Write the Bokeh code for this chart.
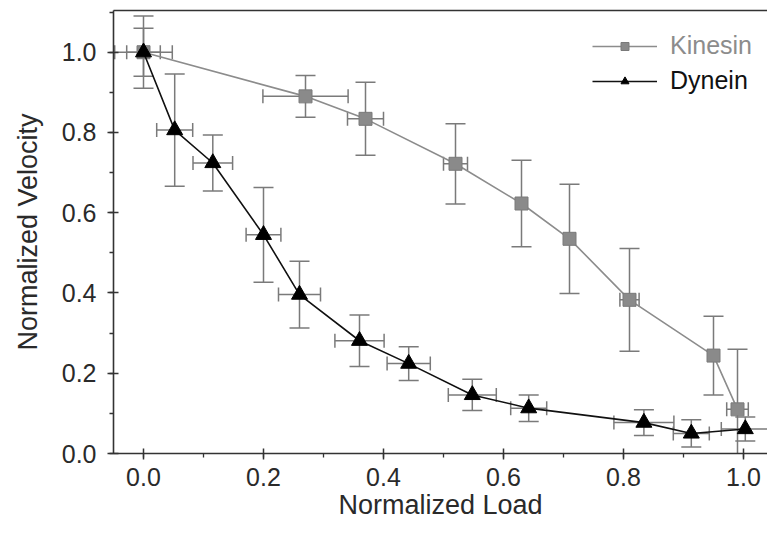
from bokeh.plotting import figure
from bokeh.models import (ColumnDataSource, Whisker, TeeHead, Legend, LegendItem,
                          SingleIntervalTicker, FixedTicker, PrintfTickFormatter, LinearAxis, Range1d)
from bokeh.embed import file_html
from bokeh.resources import INLINE

# ---- data ----
load_kinesin = [0.0, 0.27, 0.37, 0.52, 0.63, 0.71, 0.81, 0.95, 0.99]
vel_kinesin = [1.0, 0.89, 0.834, 0.722, 0.623, 0.535, 0.383, 0.244, 0.11]
yerr_kinesin = [0.09, 0.052, 0.091, 0.10, 0.108, 0.136, 0.128, 0.098, 0.15]
xerr_kinesin = [0.048, 0.071, 0.03, 0.02, 0.0, 0.0, 0.016, 0.0, 0.018]

load_dynein = [0.0, 0.052, 0.1155, 0.2, 0.26, 0.36, 0.442, 0.548, 0.642, 0.834, 0.913, 1.003]
vel_dynein = [1.0, 0.806, 0.724, 0.545, 0.396, 0.281, 0.224, 0.146, 0.113, 0.077, 0.05, 0.061]
yerr_dynein = [0.06, 0.14, 0.07, 0.118, 0.083, 0.064, 0.042, 0.039, 0.033, 0.032, 0.034, 0.03]
xerr_dynein = [0.028, 0.03, 0.033, 0.029, 0.035, 0.041, 0.036, 0.04, 0.03, 0.05, 0.03, 0.04]

x_label = "Normalized Load"
y_label = "Normalized Velocity"
series_names = ["Kinesin", "Dynein"]

FONT = "Liberation Sans"
TEXT_COLOR = "#2a2a2a"
ERR_COLOR = "#7a7a7a"
KIN_COLOR = "#8c8c8c"

p = figure(width=767, height=535, output_backend="svg", toolbar_location=None,
           x_range=Range1d(-0.05, 1.04), y_range=Range1d(0.0, 1.104),
           min_border_left=113, min_border_right=0, min_border_top=10, min_border_bottom=82)
p.outline_line_color = None
p.grid.grid_line_color = None
p.background_fill_color = "white"
p.border_fill_color = "white"


def add_errors(xs, ys, xe, ye):
    vsrc = ColumnDataSource(dict(x=xs, lo=[y - e for y, e in zip(ys, ye)],
                                 hi=[y + e for y, e in zip(ys, ye)]))
    keep = [i for i, e in enumerate(xe) if e > 0]
    hsrc = ColumnDataSource(dict(y=[ys[i] for i in keep],
                                 lo=[xs[i] - xe[i] for i in keep],
                                 hi=[xs[i] + xe[i] for i in keep]))
    vw = Whisker(source=vsrc, base="x", lower="lo", upper="hi", dimension="height",
                 line_color=ERR_COLOR, line_width=1.5,
                 upper_head=TeeHead(size=20, line_color=ERR_COLOR, line_width=1.5),
                 lower_head=TeeHead(size=20, line_color=ERR_COLOR, line_width=1.5))
    hw = Whisker(source=hsrc, base="y", lower="lo", upper="hi", dimension="width",
                 line_color=ERR_COLOR, line_width=1.5,
                 upper_head=TeeHead(size=14, line_color=ERR_COLOR, line_width=1.5),
                 lower_head=TeeHead(size=14, line_color=ERR_COLOR, line_width=1.5))
    p.add_layout(vw)
    p.add_layout(hw)


add_errors(load_kinesin, vel_kinesin, xerr_kinesin, yerr_kinesin)
add_errors(load_dynein, vel_dynein, xerr_dynein, yerr_dynein)

ksrc = ColumnDataSource(dict(x=load_kinesin, y=vel_kinesin))
dsrc = ColumnDataSource(dict(x=load_dynein, y=vel_dynein))

kl = p.line("x", "y", source=ksrc, line_color=KIN_COLOR, line_width=1.6)
ks = p.scatter("x", "y", source=ksrc, marker="square", size=13,
               fill_color="#8a8a8a", line_color="#7a7a7a", line_width=1)
dl = p.line("x", "y", source=dsrc, line_color="#111111", line_width=1.6)
ds = p.scatter("x", "y", source=dsrc, marker="triangle", size=16,
               fill_color="black", line_color="black", line_width=1)

# axes styling
for ax in (p.xaxis[0], p.yaxis[0]):
    ax.ticker = SingleIntervalTicker(interval=0.2, num_minor_ticks=2)
    ax.formatter = PrintfTickFormatter(format="%.1f")
    ax.axis_line_color = "#333333"
    ax.axis_line_width = 1.6
    ax.major_tick_line_color = "#333333"
    ax.major_tick_line_width = 1.5
    ax.minor_tick_line_color = "#333333"
    ax.minor_tick_line_width = 1.3
    ax.major_tick_in = 5
    ax.major_tick_out = 6
    ax.minor_tick_in = 0
    ax.minor_tick_out = 4
    ax.major_label_text_font = FONT
    ax.major_label_text_font_size = "25px"
    ax.major_label_text_color = TEXT_COLOR
    ax.axis_label_text_font = FONT
    ax.axis_label_text_font_size = "27px"
    ax.axis_label_text_font_style = "normal"
    ax.axis_label_text_color = TEXT_COLOR

p.xaxis[0].axis_label = x_label
p.yaxis[0].axis_label = y_label
p.xaxis[0].major_label_standoff = 8
p.xaxis[0].axis_label_standoff = 1
p.yaxis[0].major_label_standoff = 11
p.yaxis[0].axis_label_standoff = 16

top = LinearAxis(ticker=FixedTicker(ticks=[]), axis_line_color="#333333", axis_line_width=1.6,
                 major_tick_line_color=None, minor_tick_line_color=None)
p.add_layout(top, "above")

leg_k = Legend(items=[LegendItem(label=series_names[0], renderers=[kl, ks])],
               location=(479, 393), orientation="vertical",
               border_line_color=None, background_fill_alpha=0,
               label_text_font=FONT, label_text_font_size="25px",
               label_text_color="#8c8c8c", glyph_width=65, glyph_height=20,
               label_standoff=13, padding=0, margin=0, spacing=0)
leg_d = Legend(items=[LegendItem(label=series_names[1], renderers=[dl, ds])],
               location=(479, 358), orientation="vertical",
               border_line_color=None, background_fill_alpha=0,
               label_text_font=FONT, label_text_font_size="25px",
               label_text_color="#111111", glyph_width=65, glyph_height=20,
               label_standoff=13, padding=0, margin=0, spacing=0)
p.add_layout(leg_k, "center")
p.add_layout(leg_d, "center")

open("out.html", "w").write(file_html(p, INLINE))
